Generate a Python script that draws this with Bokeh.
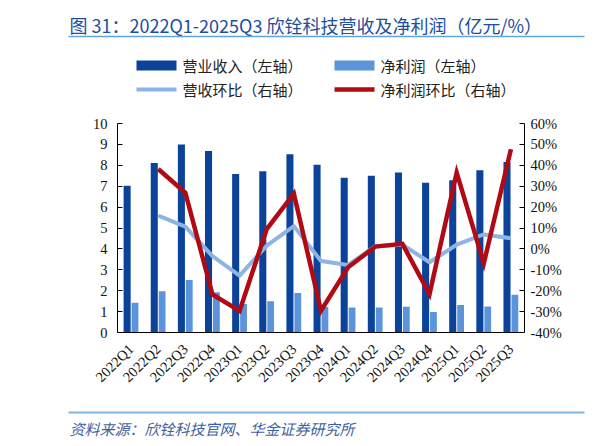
import math
from bokeh.plotting import figure
from bokeh.layouts import column, row
from bokeh.models import (FactorRange, Range1d, LinearAxis, ColumnDataSource, FixedTicker)
from bokeh.core.properties import value
from bokeh.transform import dodge
from bokeh.embed import file_html
from bokeh.resources import INLINE

# ---------------- data ----------------
quarters = ["2022Q1", "2022Q2", "2022Q3", "2022Q4", "2023Q1", "2023Q2", "2023Q3",
            "2023Q4", "2024Q1", "2024Q2", "2024Q3", "2024Q4", "2025Q1", "2025Q2", "2025Q3"]
revenue = [7.02, 8.11, 8.99, 8.69, 7.58, 7.71, 8.53, 8.03, 7.41, 7.50, 7.65, 7.17, 7.28, 7.76, 8.16]
net_profit = [1.42, 1.97, 2.51, 1.92, 1.36, 1.50, 1.89, 1.22, 1.20, 1.20, 1.23, 0.98, 1.32, 1.24, 1.81]
qoq_quarters = quarters[1:]
revenue_qoq = [15.9, 10.7, -3.5, -12.8, 1.6, 10.9, -5.8, -7.7, 1.3, 2.0, -6.4, 2.0, 6.9, 5.1]
net_profit_qoq = [38.2, 26.9, -21.8, -29.7, 9.5, 26.4, -29.6, -8.8, 1.1, 2.4, -21.6, 36.5, -6.9, 47.7]
left_ticks = [0, 1, 2, 3, 4, 5, 6, 7, 8, 9, 10]
right_ticks = [-40, -30, -20, -10, 0, 10, 20, 30, 40, 50, 60]
right_tick_labels = {t: f"{t}%" for t in right_ticks}

title_text = "图 31：2022Q1-2025Q3 欣铨科技营收及净利润（亿元/%）"
legend_labels = ["营业收入（左轴）", "净利润（左轴）", "营收环比（右轴）", "净利润环比（右轴）"]
source_text = "资料来源：欣铨科技官网、华金证券研究所"

# ---------------- styles ----------------
C_DARK = "#0B439A"
C_LIGHT = "#5B94DA"
C_LINE = "#8DB4E4"
C_RED = "#B00A14"
C_TITLE = "#1D4E9E"
C_RULE = "#5FA6DE"
CJK = "Noto Sans CJK SC"
SERIF = "Liberation Serif"

W = 610
HEAD_H = 112          # page rows 0..112
MAIN_H = 288          # page rows 112..400
FOOT_H = 44           # page rows 400..444
FL, FR, FT, FB = 117, 524, 123, 332   # plot frame edges in page pixels


def blank(h):
    f = figure(width=W, height=h, x_range=Range1d(0, W), y_range=Range1d(h, 0),
               output_backend="svg", toolbar_location=None,
               x_axis_location=None, y_axis_location=None,
               min_border=0, outline_line_color=None,
               background_fill_color="white", border_fill_color="white")
    f.xgrid.visible = False
    f.ygrid.visible = False
    return f


# ---------------- header (title + legend) ----------------
head = blank(HEAD_H)
head.text(x=[69], y=[24], text=[title_text], text_font=value(CJK), text_font_size="18px",
          text_color=C_TITLE, text_align="left", text_baseline="middle")
head.segment(x0=[68], y0=[36], x1=[584], y1=[36], line_color=C_RULE, line_width=1.6)

leg_colors = [C_DARK, C_LIGHT, C_LINE, C_RED]
leg_widths = [10, 10, 4, 4.5]
leg_x = [136, 334, 136, 334]
leg_y = [65, 65, 89, 89]
head.segment(x0=leg_x, y0=leg_y, x1=[v + 40 for v in leg_x], y1=leg_y,
             line_color=leg_colors, line_width=leg_widths, line_cap="butt")
head.text(x=[v + 46 for v in leg_x], y=leg_y, text=legend_labels, text_font=value(CJK),
          text_font_size="15px", text_color="#222222", text_align="left",
          text_baseline="middle")

# ---------------- main chart ----------------
p = figure(x_range=FactorRange(*quarters, range_padding=0), y_range=Range1d(0, 10),
           width=W, height=MAIN_H, output_backend="svg", toolbar_location=None,
           min_border_left=FL, min_border_right=W - FR,
           min_border_top=FT - HEAD_H, min_border_bottom=HEAD_H + MAIN_H - FB,
           outline_line_color=None, background_fill_color="white", border_fill_color="white")
p.extra_y_ranges = {"pct": Range1d(-40, 60)}
p.xgrid.visible = False
p.ygrid.visible = False

src = ColumnDataSource(dict(q=quarters, rev=revenue, np=net_profit))
src2 = ColumnDataSource(dict(q=qoq_quarters, rq=revenue_qoq, nq=net_profit_qoq))

p.vbar(x=dodge("q", -0.145, range=p.x_range), top="rev", width=0.26, source=src,
       fill_color=C_DARK, line_color=None)
p.vbar(x=dodge("q", 0.145, range=p.x_range), top="np", width=0.25, source=src,
       fill_color=C_LIGHT, line_color=None)
p.line(x="q", y="rq", source=src2, y_range_name="pct", line_color=C_LINE, line_width=4,
       line_join="round")
p.line(x="q", y="nq", source=src2, y_range_name="pct", line_color=C_RED, line_width=4.5,
       line_join="miter")

yl = p.yaxis[0]
yl.ticker = FixedTicker(ticks=left_ticks)
yr = LinearAxis(y_range_name="pct", ticker=FixedTicker(ticks=right_ticks),
                major_label_overrides=right_tick_labels)
p.add_layout(yr, "right")
for ax in (yl, yr):
    ax.major_tick_in = 5
    ax.major_tick_out = 0
    ax.minor_tick_in = 0
    ax.minor_tick_out = 0
    ax.axis_line_color = "black"
    ax.major_tick_line_color = "black"
    ax.major_label_text_font = SERIF
    ax.major_label_text_font_size = "14.5px"
    ax.major_label_text_color = "#111111"
yl.major_label_standoff = 10
yr.major_label_standoff = 6

xa = p.xaxis[0]
xa.major_tick_in = 0
xa.major_tick_out = 0
xa.axis_line_color = "black"
xa.major_label_orientation = math.pi / 4
xa.major_label_text_font = SERIF
xa.major_label_text_font_size = "14.5px"
xa.major_label_text_color = "#111111"
xa.major_label_standoff = 14

# ---------------- footer ----------------
foot = blank(FOOT_H)
foot.segment(x0=[68], y0=[12], x1=[584], y1=[12], line_color="#7DB6E2", line_width=2.2)
foot.text(x=[69], y=[28], text=[source_text], text_font=value(CJK), text_font_size="15px",
          text_color="#3F5F9F", text_font_style="italic", text_align="left",
          text_baseline="middle")

layout = column(row(head), row(p), row(foot), spacing=0)
open("out.html", "w").write(file_html(layout, INLINE))
